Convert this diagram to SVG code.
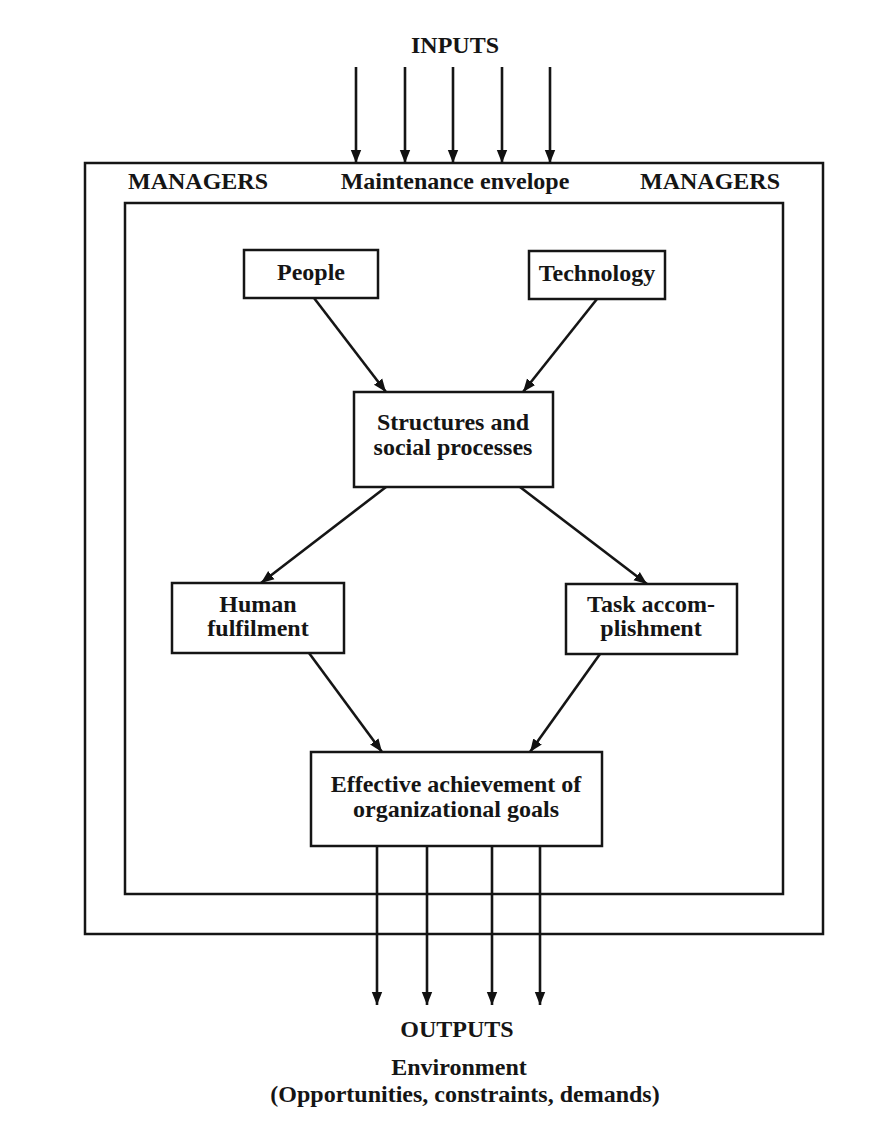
<svg xmlns="http://www.w3.org/2000/svg" width="891" height="1144" viewBox="0 0 891 1144">
<defs>
<marker id="ah" viewBox="0 0 10 10" refX="10" refY="5" markerWidth="5" markerHeight="6" markerUnits="strokeWidth" orient="auto">
<path d="M0,1 L10,5 L0,9 z" fill="#111"/>
</marker>
<style>
text{font-family:"Liberation Serif","Times New Roman",serif;font-size:24px;font-weight:bold;fill:#151515;text-anchor:middle}
.box{fill:none;stroke:#151515;stroke-width:2.5}
.env{fill:none;stroke:#151515;stroke-width:2.5}
.c{fill:none;stroke:#151515;stroke-width:2.6;marker-end:url(#ah)}
</style>
</defs>
<rect width="891" height="1144" fill="#fff"/>
<g id="envelope">
<rect class="env" x="85" y="163" width="738" height="771"/>
<rect class="env" x="125" y="203" width="658" height="691"/>
<text x="198" y="189">MANAGERS</text>
<text x="455" y="189">Maintenance envelope</text>
<text x="710" y="189">MANAGERS</text>
</g>
<g id="inputs"><text x="455" y="53">INPUTS</text></g>
<g id="people"><rect class="box" x="244" y="250" width="134" height="48"/><text x="311" y="280">People</text></g>
<g id="technology"><rect class="box" x="529" y="251" width="136" height="48"/><text x="597" y="281">Technology</text></g>
<g id="structures"><rect class="box" x="354" y="392" width="199" height="95"/><text x="453" y="430">Structures and</text><text x="453" y="455">social processes</text></g>
<g id="human"><rect class="box" x="172" y="583" width="172" height="70"/><text x="258" y="612">Human</text><text x="258" y="636">fulfilment</text></g>
<g id="task"><rect class="box" x="566" y="584" width="171" height="70"/><text x="651" y="612">Task accom-</text><text x="651" y="636">plishment</text></g>
<g id="effective"><rect class="box" x="311" y="752" width="291" height="94"/><text x="456" y="792">Effective achievement of</text><text x="456" y="817">organizational goals</text></g>
<g id="outputs"><text x="457" y="1037">OUTPUTS</text><text x="459" y="1075">Environment</text><text x="465" y="1102">(Opportunities, constraints, demands)</text></g>
<g id="connectors">
<line class="c" x1="356" y1="67" x2="356" y2="163"/>
<line class="c" x1="405" y1="67" x2="405" y2="163"/>
<line class="c" x1="453" y1="67" x2="453" y2="163"/>
<line class="c" x1="502" y1="67" x2="502" y2="163"/>
<line class="c" x1="550" y1="67" x2="550" y2="163"/>
<line class="c" x1="314" y1="298" x2="386" y2="392"/>
<line class="c" x1="597" y1="299" x2="523" y2="392"/>
<line class="c" x1="386" y1="487" x2="261" y2="583"/>
<line class="c" x1="520" y1="487" x2="647" y2="584"/>
<line class="c" x1="309" y1="653" x2="382" y2="752"/>
<line class="c" x1="600" y1="654" x2="530" y2="752"/>
<line class="c" x1="377" y1="846" x2="377" y2="1005"/>
<line class="c" x1="427" y1="846" x2="427" y2="1005"/>
<line class="c" x1="492" y1="846" x2="492" y2="1005"/>
<line class="c" x1="540" y1="846" x2="540" y2="1005"/>
</g>
</svg>
